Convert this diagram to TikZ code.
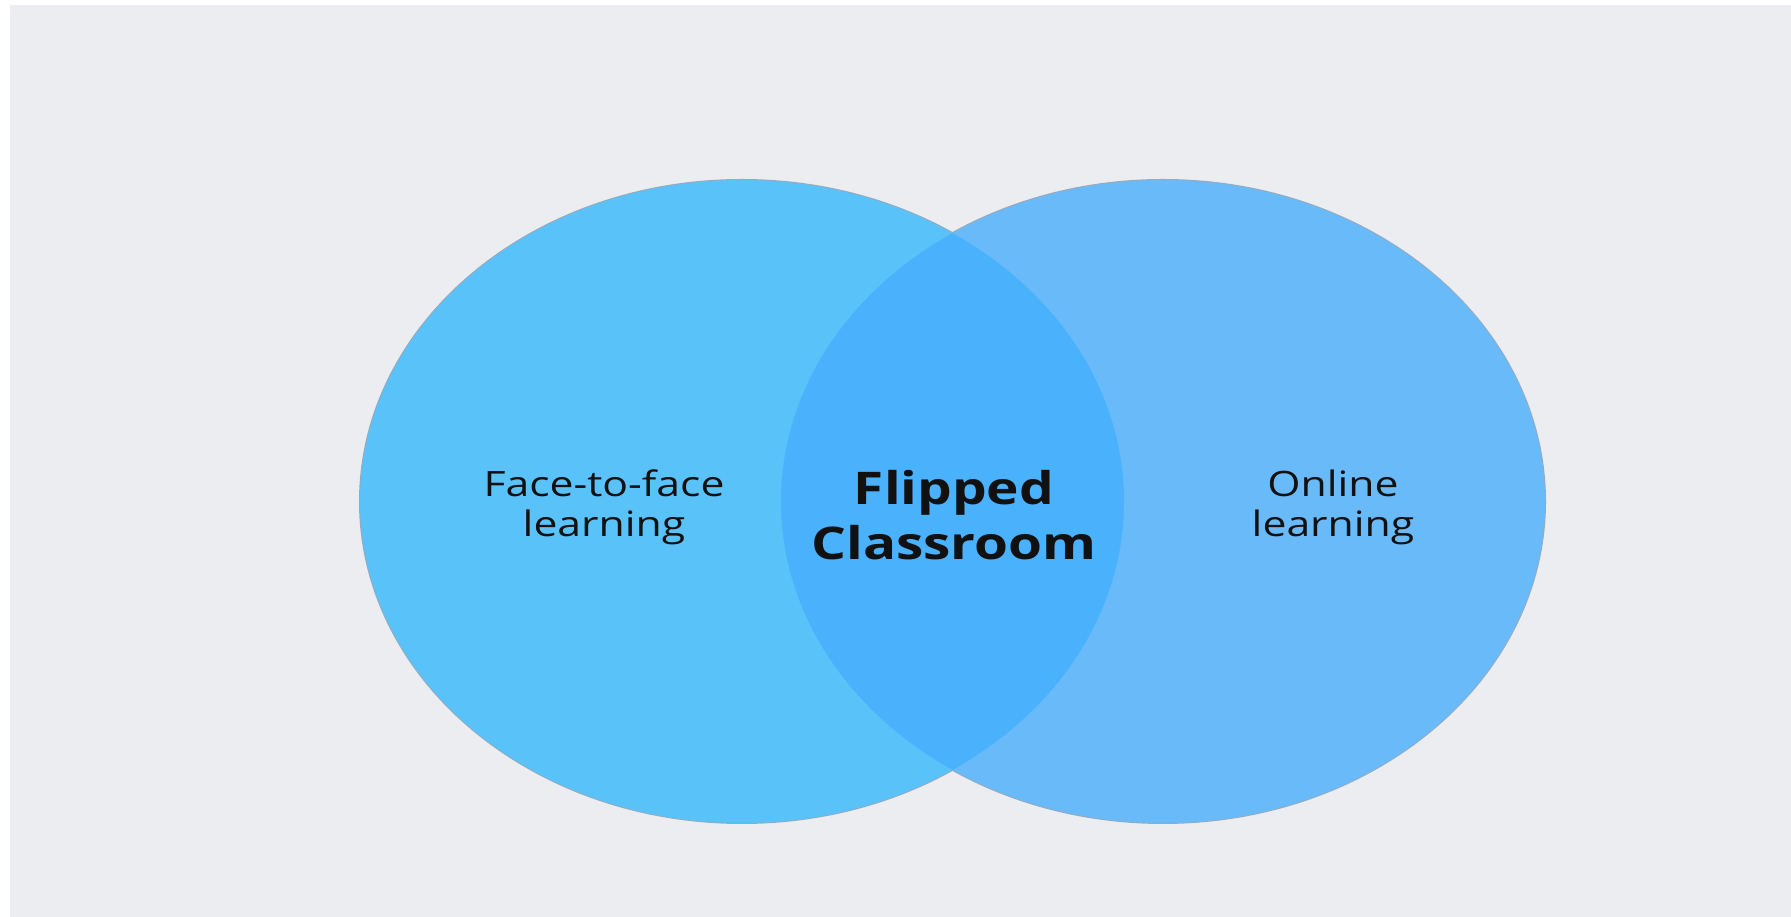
\documentclass[tikz,border=0pt]{standalone}
\usepackage{fontspec}
\setmainfont{Open Sans}
\newfontfamily\vennfont[FakeStretch=1.22]{Open Sans}
\usepackage{tikz}
\usetikzlibrary{positioning}

\definecolor{bggray}{RGB}{236,237,241}
\definecolor{leftblue}{RGB}{89,194,249}
\definecolor{rightblue}{RGB}{105,186,249}
\definecolor{midblue}{RGB}{74,177,252}
\definecolor{rimgray}{RGB}{150,170,190}
\definecolor{inkblack}{RGB}{17,17,17}

\begin{document}
\begin{tikzpicture}[
    x=1pt, y=1pt,
    rim/.style={draw=rimgray, line width=2pt},
    label/.style={align=center, text=inkblack, inner sep=0pt,
        font=\vennfont\fontsize{35}{40}\selectfont},
    title/.style={align=center, text=inkblack, inner sep=0pt,
        font=\vennfont\fontsize{45}{55}\selectfont\bfseries}
]

% Page and background
\useasboundingbox (0,0) rectangle (1791,917);
\fill[white] (0,0) rectangle (1791,917);
\fill[bggray] (10,0) rectangle (1791,912);

% Circles
\coordinate (L) at (742,415.5);
\coordinate (R) at (1163,415.5);
\draw[rim] (L) ellipse [x radius=382, y radius=321.5];
\draw[rim] (R) ellipse [x radius=382, y radius=321.5];
\fill[leftblue] (L) ellipse [x radius=382, y radius=321.5];
\fill[rightblue] (R) ellipse [x radius=382, y radius=321.5];
\begin{scope}
    \clip (L) ellipse [x radius=382, y radius=321.5];
    \fill[midblue] (R) ellipse [x radius=382, y radius=321.5];
\end{scope}

% Labels (anchored at the baseline of the last line)
\node[label, anchor=base] (face) at (604,380) {Face-to-face\\learning};
\node[label, anchor=base] (online) at (1333,380) {Online\\learning};
\node[title, anchor=base] (flipped) at (954,357) {Flipped\\Classroom};

\end{tikzpicture}
\end{document}
